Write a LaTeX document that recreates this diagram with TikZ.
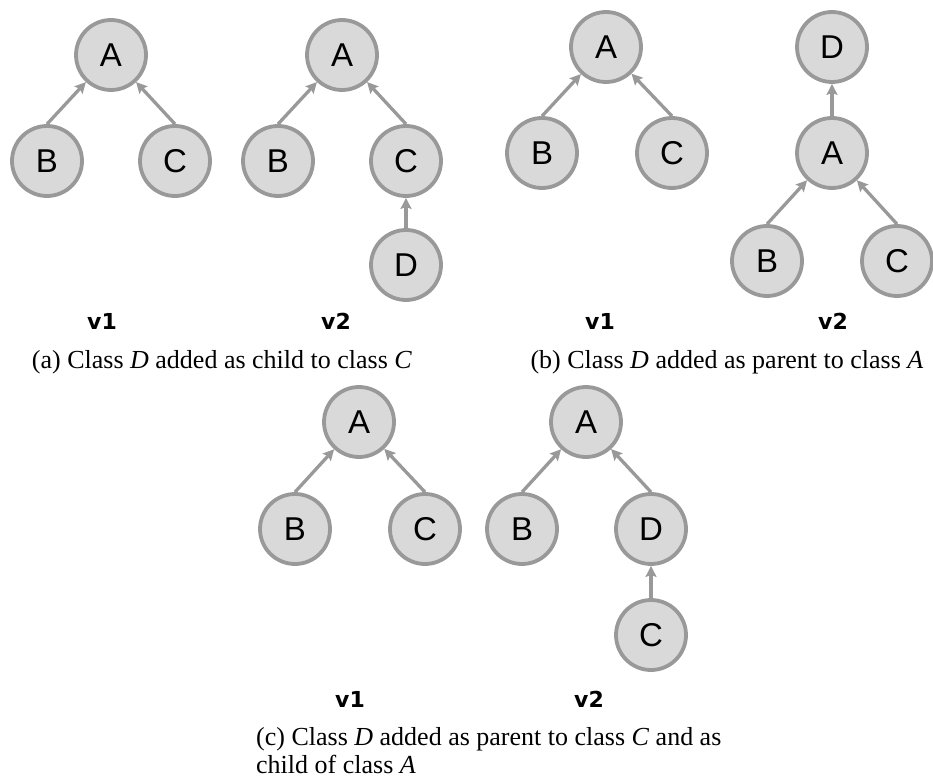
\documentclass[tikz,border=0pt]{standalone}
\usepackage{fontspec}
\setmainfont{Liberation Serif}
\newfontfamily\clsfont{Liberation Sans}
\newfontfamily\verfont{DejaVu Sans}
\usepackage{tikz}
\usetikzlibrary{positioning,arrows.meta}
\usepackage{xcolor}
\definecolor{clsfill}{HTML}{D9D9D9}
\definecolor{clsline}{HTML}{999999}

\begin{document}
\begin{tikzpicture}[x=1pt,y=-1pt,>={Stealth[length=11pt,width=11pt,inset=2pt]},node distance=106pt and 64pt,
  cls/.style={circle,draw=clsline,fill=clsfill,line width=3.8pt,minimum size=70pt,inner sep=0pt,on grid,font=\clsfont\fontsize{33}{33}\selectfont},
  inh/.style={->,draw=clsline,line width=3.3pt},
  ver/.style={anchor=base,font=\verfont\bfseries\fontsize{22}{22}\selectfont},
  subcap/.style={anchor=base,font=\fontsize{26}{28}\selectfont}]
\useasboundingbox (0,0) rectangle (933,778);
% (a) v1
\node[cls] (a1A) at (111,55) {A};
\node[cls] (a1B) [below left=of a1A] {B};
\node[cls] (a1C) [below right=of a1A] {C};
% (a) v2
\node[cls] (a2A) at (342,55) {A};
\node[cls] (a2B) [below left=of a2A] {B};
\node[cls] (a2C) [below right=of a2A] {C};
\node[cls] (a2D) [below=104pt of a2C] {D};
\draw[inh] (a1B.north) -- (a1A);
\draw[inh] (a1C.north) -- (a1A);
\draw[inh] (a2B.north) -- (a2A);
\draw[inh] (a2C.north) -- (a2A);
\draw[inh] (a2D) -- (a2C);
\node[ver] (a1v) at (102,329) {v1};
\node[ver] (a2v) at (336,329) {v2};
\node[subcap] (acap) at (222,368) {(a) Class \textit{D} added as child to class \textit{C}};
% (b) v1
\node[cls] (b1A) at (606,47) {A};
\node[cls] (b1B) [below left=of b1A] {B};
\node[cls] (b1C) [below right=106pt and 66pt of b1A] {C};
% (b) v2
\node[cls] (b2D) at (832,47) {D};
\node[cls] (b2A) [below=of b2D] {A};
\node[cls] (b2B) [below left=108pt and 65pt of b2A] {B};
\node[cls] (b2C) [below right=108pt and 65pt of b2A] {C};
\draw[inh] (b1B.north) -- (b1A);
\draw[inh] (b1C.north) -- (b1A);
\draw[inh] (b2A) -- (b2D);
\draw[inh] (b2B.north) -- (b2A);
\draw[inh] (b2C.north) -- (b2A);
\node[ver] (b1v) at (600,329) {v1};
\node[ver] (b2v) at (833,329) {v2};
\node[subcap] (bcap) at (727,368) {(b) Class \textit{D} added as parent to class \textit{A}};
% (c) v1
\node[cls] (c1A) at (359,422) {A};
\node[cls] (c1B) [below left=107pt and 64pt of c1A] {B};
\node[cls] (c1C) [below right=107pt and 66pt of c1A] {C};
% (c) v2
\node[cls] (c2A) at (586,422) {A};
\node[cls] (c2B) [below left=107pt and 64pt of c2A] {B};
\node[cls] (c2D) [below right=107pt and 65pt of c2A] {D};
\node[cls] (c2C) [below=of c2D] {C};
\draw[inh] (c1B.north) -- (c1A);
\draw[inh] (c1C.north) -- (c1A);
\draw[inh] (c2B.north) -- (c2A);
\draw[inh] (c2D.north) -- (c2A);
\draw[inh] (c2C) -- (c2D);
\node[ver] (c1v) at (350,707) {v1};
\node[ver] (c2v) at (589,707) {v2};
\node[subcap,anchor=north west,inner sep=0pt,align=left] (ccap) at (256,727)
  {(c) Class \textit{D} added as parent to class \textit{C} and as\\child of class \textit{A}};
\end{tikzpicture}
\end{document}
